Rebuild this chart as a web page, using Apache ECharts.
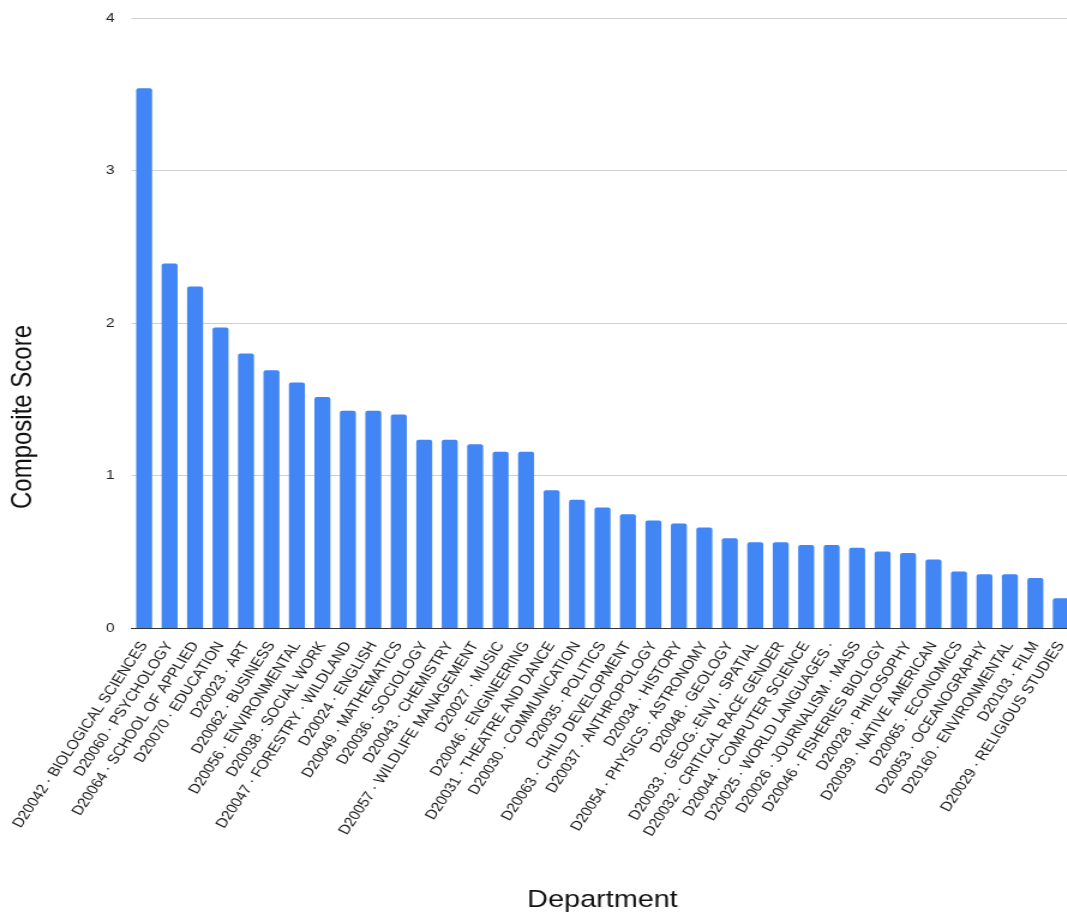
<!DOCTYPE html>
<html>
<head>
<meta charset="utf-8">
<script src="https://cdn.jsdelivr.net/npm/echarts@6/dist/echarts.min.js"></script>
<style>
  html, body { margin: 0; padding: 0; background: #fff; overflow: hidden; }
  /* chart is laid out at a narrower width and widened horizontally */
  #chart { width: 889px; height: 913px; transform: scaleX(1.2); transform-origin: 0 0; }
</style>
</head>
<body>
<div id="chart"></div>
<script>
const departments = [
  'D20042 · BIOLOGICAL SCIENCES', 'D20060 · PSYCHOLOGY', 'D20064 · SCHOOL OF APPLIED',
  'D20070 · EDUCATION', 'D20023 · ART', 'D20062 · BUSINESS', 'D20056 · ENVIRONMENTAL',
  'D20038 · SOCIAL WORK', 'D20047 · FORESTRY · WILDLAND', 'D20024 · ENGLISH',
  'D20049 · MATHEMATICS', 'D20036 · SOCIOLOGY', 'D20043 · CHEMISTRY',
  'D20057 · WILDLIFE MANAGEMENT', 'D20027 · MUSIC', 'D20046 · ENGINEERING',
  'D20031 · THEATRE AND DANCE', 'D20030 · COMMUNICATION', 'D20035 · POLITICS',
  'D20063 · CHILD DEVELOPMENT', 'D20037 · ANTHROPOLOGY', 'D20034 · HISTORY',
  'D20054 · PHYSICS · ASTRONOMY', 'D20048 · GEOLOGY', 'D20033 · GEOG.·ENVI · SPATIAL',
  'D20032 · CRITICAL RACE GENDER', 'D20044 · COMPUTER SCIENCE', 'D20025 · WORLD LANGUAGES ·',
  'D20026 · JOURNALISM · MASS', 'D20046 · FISHERIES BIOLOGY', 'D20028 · PHILOSOPHY',
  'D20039 · NATIVE AMERICAN', 'D20065 · ECONOMICS', 'D20053 · OCEANOGRAPHY',
  'D20160 · ENVIRONMENTAL', 'D20103 · FILM', 'D20029 · RELIGIOUS STUDIES'
];

const compositeScores = [
  3.54, 2.39, 2.24, 1.97, 1.80, 1.69, 1.61, 1.515, 1.425, 1.425,
  1.40, 1.235, 1.235, 1.205, 1.155, 1.155, 0.903, 0.841, 0.790,
  0.746, 0.705, 0.685, 0.659, 0.589, 0.562, 0.562, 0.545, 0.545,
  0.527, 0.501, 0.492, 0.449, 0.370, 0.352, 0.352, 0.328, 0.195
];

const yTicks = { min: 0, max: 4, interval: 1 };

const FONT = 'Arial, "Liberation Sans", sans-serif';
const chart = echarts.init(document.getElementById('chart'));

chart.setOption({
  animation: false,
  backgroundColor: '#ffffff',
  grid: {
    left: 109.5, right: -5.6, top: 18, bottom: 285,
    containLabel: false,
    outerBoundsMode: 'none'
  },
  xAxis: {
    type: 'category',
    data: departments,
    name: 'Department',
    nameLocation: 'middle',
    nameGap: 260,
    nameTextStyle: { fontFamily: FONT, fontSize: 24, color: '#111' },
    axisLine: { show: true, lineStyle: { color: '#333', width: 1 } },
    axisTick: { show: false },
    axisLabel: {
      interval: 0,
      rotate: 60,
      margin: 15,
      fontFamily: FONT,
      fontSize: 13.4,
      color: '#1a1a1a'
    }
  },
  yAxis: {
    type: 'value',
    min: yTicks.min,
    max: yTicks.max,
    interval: yTicks.interval,
    axisLine: { show: false },
    axisTick: { show: false },
    axisLabel: { fontFamily: FONT, fontSize: 13, color: '#222', margin: 14 },
    splitLine: { lineStyle: { color: '#d0d0d0', width: 1 } }
  },
  graphic: [{
    type: 'text',
    x: 19,
    y: 417,
    rotation: Math.PI / 2,
    style: {
      text: 'Composite Score',
      font: '24px ' + FONT,
      fill: '#111',
      align: 'center',
      verticalAlign: 'middle'
    }
  }],
  series: [{
    type: 'bar',
    data: compositeScores,
    barWidth: 13.3,
    itemStyle: { color: '#4285F4', borderRadius: [2, 2, 0, 0] }
  }]
});
</script>
</body>
</html>
